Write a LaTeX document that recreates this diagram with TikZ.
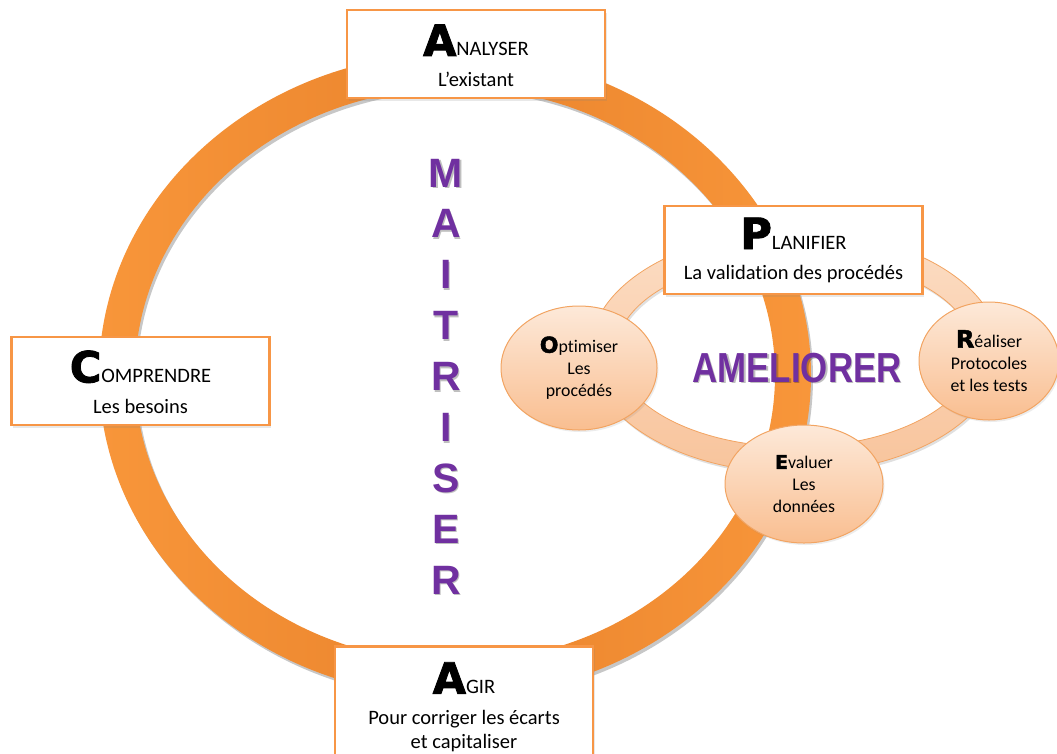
\documentclass[tikz,border=0pt]{standalone}
\usepackage{fontspec}
\usepackage{graphicx}
\setmainfont{Carlito}[Ligatures=NoCommon]
\newfontfamily\heavyfont{DejaVu Sans Bold}[FakeBold=2]
\newfontfamily\purpfont{Liberation Sans Bold}
\usetikzlibrary{shapes.geometric,shadows}
\definecolor{ringL}{HTML}{F8963A}
\definecolor{ringD}{HTML}{EA842D}
\definecolor{boxline}{HTML}{F79646}
\definecolor{peachT}{HTML}{FDE9D9}
\definecolor{peachB}{HTML}{F9BE90}
\definecolor{peachline}{HTML}{F2A462}
\definecolor{sringA}{HTML}{FCDDC4}
\definecolor{sringB}{HTML}{F8C49C}
\definecolor{purp}{HTML}{7030A0}
\newcommand\initA[1]{{\heavyfont\fontsize{43}{43}\selectfont #1}}
\newcommand\initB[2]{{\heavyfont\fontsize{#1}{#1}\selectfont #2}}
\tikzset{
  box/.style={draw=boxline, line width=2.5pt, fill=white,
    minimum width=258pt, minimum height=88pt, align=center, inner sep=0pt,
    font=\fontsize{20.5}{24}\selectfont,
    drop shadow={shadow xshift=1.5pt, shadow yshift=-3pt, opacity=0.18}},
  ell/.style={ellipse, draw=peachline, line width=1pt, top color=peachT,
    bottom color=peachB, inner sep=0pt, align=center,
    font=\fontsize{17.8}{22}\selectfont,
    drop shadow={shadow xshift=1.5pt, shadow yshift=-2pt, opacity=0.15}},
  purptext/.style={text=purp, font=\purpfont, align=center, inner sep=0pt},
  purpshadow/.style={text=black, opacity=0.25, font=\purpfont, align=center, inner sep=0pt}
}
\begin{document}
\begin{tikzpicture}[x=1pt,y=-1pt]
\useasboundingbox (0,0) rectangle (1057,753);
\clip (0,0) rectangle (1057,753);
% big ring shadow
\fill[black, opacity=0.22, even odd rule, shift={(2,3)}]
  (455,375) ellipse [x radius=356pt, y radius=322pt]
  (455,375) ellipse [x radius=320pt, y radius=287pt];
% big ring
\shade[even odd rule, left color=ringL, right color=ringL, middle color=ringD]
  (455,375) ellipse [x radius=356pt, y radius=322pt]
  (455,375) ellipse [x radius=320pt, y radius=287pt];
% small ring shadow
\fill[black, opacity=0.12, even odd rule, shift={(1.5,2.5)}]
  (795,352) ellipse [x radius=205pt, y radius=121pt]
  (795,352) ellipse [x radius=179pt, y radius=95pt];
% small ring
\shade[even odd rule, draw=peachline, line width=0.8pt, top color=sringA, bottom color=sringB]
  (795,352) ellipse [x radius=205pt, y radius=121pt]
  (795,352) ellipse [x radius=179pt, y radius=95pt];
% MAITRISER
\node[purpshadow, font=\purpfont\fontsize{41}{50.9}\selectfont] (maitrisershadow) at (447.5,378)
  {M\\A\\I\\T\\R\\I\\S\\E\\R};
\node[purptext, font=\purpfont\fontsize{41}{50.9}\selectfont] (maitriser) at (446,376.5)
  {M\\A\\I\\T\\R\\I\\S\\E\\R};
% boxes
\node[box] (analyser) at (476,54) {\rule{0pt}{38pt}\initA{A}NALYSER\\[7pt]L’existant\vphantom{p}};
\node[box] (planifier) at (793.5,250) {\initA{P}LANIFIER\\[6pt]La validation des procédés};
\node[box] (comprendre) at (140.5,381) {\rule{0pt}{34pt}\initA{C}OMPRENDRE\\[7pt]Les besoins};
\node[box, anchor=north, inner ysep=16pt] (agir) at (464,645)
  {\initA{A}GIR\\[7pt]Pour corriger les écarts\\et capitaliser};
% ellipses
\node[ell, minimum width=156pt, minimum height=124pt] (optimiser) at (579,368)
  {\initB{22}{O}ptimiser\\Les\\procédés};
\node[ell, minimum width=140pt, minimum height=118pt] (realiser) at (989,361)
  {\initB{24}{R}éaliser\\Protocoles\\et les tests};
\node[ell, minimum width=158pt, minimum height=118pt] (evaluer) at (804,484)
  {\initB{19}{E}valuer\\Les\\données};
% AMELIORER
\node[purpshadow, font=\purpfont\fontsize{42}{42}\selectfont] (amelshadow) at (798.5,369.5)
  {\scalebox{0.83}[1]{AMELIORER}};
\node[purptext, font=\purpfont\fontsize{42}{42}\selectfont] (ameliorer) at (797,368)
  {\scalebox{0.83}[1]{AMELIORER}};
\end{tikzpicture}
\end{document}
